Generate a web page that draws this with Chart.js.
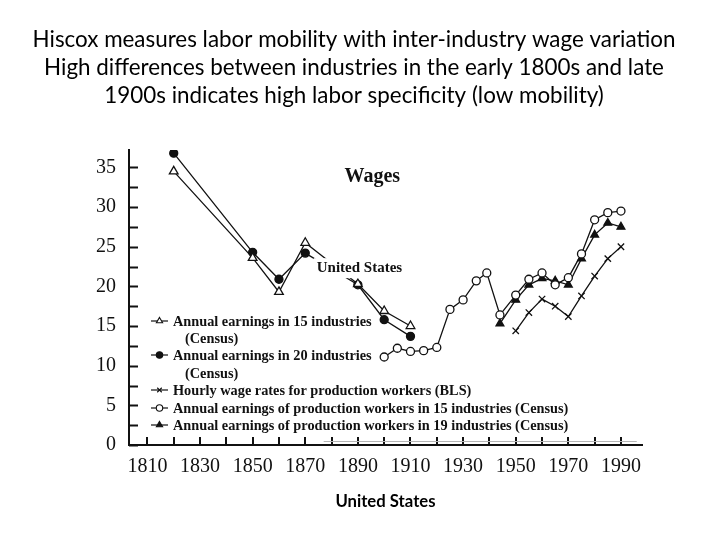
<!DOCTYPE html>
<html><head><meta charset="utf-8">
<script src="https://cdn.jsdelivr.net/npm/chart.js@4.4.1/dist/chart.umd.min.js"></script>
<style>html,body{margin:0;padding:0;background:#fff}#wrap{width:720px;height:540px;position:relative}</style>
</head><body><div id="wrap"><canvas id="c" width="720" height="540"></canvas></div>
<script>
// ---------- data ----------
const titleLines = [
  'Hiscox measures labor mobility with inter-industry wage variation',
  'High differences between industries in the early 1800s and late',
  '1900s indicates high labor specificity (low mobility)'
];
const xAxisTitle = 'United States';
const panelTitle = 'Wages';
const panelSubtitle = 'United States';

const xTickYears = [1810,1820,1830,1840,1850,1860,1870,1880,1890,1900,1910,1920,1930,1940,1950,1960,1970,1980,1990];
const xLabelYears = [1810,1830,1850,1870,1890,1910,1930,1950,1970,1990];
const yTickValues = [0,2.5,5,7.5,10,12.5,15,17.5,20,22.5,25,27.5,30,32.5,35];
const yLabelValues = [0,5,10,15,20,25,30,35];

const yearsEarly = [1820,1850,1860,1870,1890,1900,1910];
const earnings15 = [34.5,23.6,19.3,25.5,20.3,16.9,15.0];
const earnings20 = [36.8,24.3,20.9,24.2,20.2,15.8,13.7];

const yearsBLS = [1950,1955,1960,1965,1970,1975,1980,1985,1990];
const hourlyBLS = [14.4,16.7,18.4,17.5,16.2,18.8,21.3,23.5,25.0];

const yearsProd15 = [1900,1905,1910,1915,1920,1925,1930,1935,1939,1944,1950,1955,1960,1965,1970,1975,1980,1985,1990];
const prod15 = [11.1,12.2,11.8,11.9,12.3,17.1,18.3,20.7,21.7,16.4,18.9,20.9,21.7,20.2,21.1,24.1,28.4,29.3,29.5];

const yearsProd19 = [1944,1950,1955,1960,1965,1970,1975,1980,1985,1990];
const prod19 = [15.3,18.3,20.2,21.0,20.7,20.2,23.5,26.5,28.0,27.5];

const legendLabels = [
  ['Annual earnings in 15 industries','(Census)'],
  ['Annual earnings in 20 industries','(Census)'],
  ['Hourly wage rates for production workers (BLS)'],
  ['Annual earnings of production workers in 15 industries (Census)'],
  ['Annual earnings of production workers in 19 industries (Census)']
];

// ---------- chart ----------
const pts = (xs, ys) => xs.map((x, i) => ({x, y: ys[i]}));
const base = {borderColor:'#111', borderWidth:1.3, pointBorderColor:'#111', pointBorderWidth:1.3, tension:0, fill:false};

const datasets = [
  Object.assign({}, base, {label:legendLabels[0].join(' '), data:pts(yearsEarly, earnings15), pointStyle:'triangle', pointRadius:5, pointBackgroundColor:'#fff', order:2}),
  Object.assign({}, base, {label:legendLabels[1].join(' '), data:pts(yearsEarly, earnings20), pointStyle:'circle', pointRadius:4, pointBackgroundColor:'#111', order:3}),
  Object.assign({}, base, {label:legendLabels[2].join(' '), data:pts(yearsBLS, hourlyBLS), pointStyle:'crossRot', pointRadius:4.5, pointBackgroundColor:'#111', order:4}),
  Object.assign({}, base, {label:legendLabels[3].join(' '), data:pts(yearsProd15, prod15), pointStyle:'circle', pointRadius:4, pointBackgroundColor:'#fff', order:1}),
  Object.assign({}, base, {label:legendLabels[4].join(' '), data:pts(yearsProd19, prod19), pointStyle:'triangle', pointRadius:4.5, pointBackgroundColor:'#111', order:5})
];

const serif = '"Liberation Serif", "DejaVu Serif", serif';
const sans = 'Lato, "Open Sans", sans-serif';

const decorPlugin = {
  id: 'decor',
  afterDatasetsDraw(chart) {
    const ctx = chart.ctx;
    const xs = chart.scales.x, ys = chart.scales.y;
    const area = chart.chartArea;
    ctx.save();
    // inward ticks
    ctx.strokeStyle = '#111';
    ctx.lineWidth = 2;
    yTickValues.forEach(v => {
      const py = Math.round(ys.getPixelForValue(v)) + 0.5;
      ctx.beginPath(); ctx.moveTo(area.left, py); ctx.lineTo(area.left + 9, py); ctx.stroke();
    });
    xTickYears.forEach(v => {
      const px = Math.round(xs.getPixelForValue(v));
      ctx.beginPath(); ctx.moveTo(px, area.bottom); ctx.lineTo(px, area.bottom - 8); ctx.stroke();
    });
    // faint secondary baseline
    ctx.strokeStyle = '#b5b5b5'; ctx.lineWidth = 1;
    ctx.beginPath(); ctx.moveTo(xs.getPixelForValue(1877), area.bottom - 3.5); ctx.lineTo(xs.getPixelForValue(1996), area.bottom - 3.5); ctx.stroke();

    // panel labels
    ctx.fillStyle = '#111';
    ctx.textAlign = 'center'; ctx.textBaseline = 'middle';
    ctx.font = 'bold 20px ' + serif;
    ctx.fillText(panelTitle, xs.getPixelForValue(1895.5), ys.getPixelForValue(33.8));
    ctx.font = 'bold 15px ' + serif;
    const ux = xs.getPixelForValue(1890.6), uy = ys.getPixelForValue(22.3);
    const w = ctx.measureText(panelSubtitle).width;
    ctx.fillStyle = '#fff';
    ctx.fillRect(ux - w/2 - 3, uy - 10, w + 6, 20);
    ctx.fillStyle = '#111';
    ctx.fillText(panelSubtitle, ux, uy);

    // legend
    const rows = [[321,338],[355,373],[390],[408],[425]];
    ctx.textAlign = 'left';
    ctx.font = 'bold 14.3px ' + serif;
    datasets.forEach((ds, i) => {
      const y = rows[i][0];
      ctx.strokeStyle = '#111'; ctx.lineWidth = 1.2;
      ctx.beginPath(); ctx.moveTo(151, y); ctx.lineTo(168, y); ctx.stroke();
      ctx.fillStyle = ds.pointBackgroundColor;
      ctx.strokeStyle = '#111';
      ctx.lineWidth = 1.1;
      Chart.helpers.drawPoint(ctx, {pointStyle: ds.pointStyle, radius: ds.pointStyle === 'triangle' ? 3.6 : 3.2, rotation: 0, borderWidth: 1.1}, 159.5, y);
      ctx.fillStyle = '#111';
      ctx.fillText(legendLabels[i][0], 173, y + 1);
      if (legendLabels[i][1]) ctx.fillText(legendLabels[i][1], 185, rows[i][1] + 1);
    });
    ctx.restore();
  }
};

new Chart(document.getElementById('c'), {
  type: 'line',
  data: {datasets},
  options: {
    responsive: false,
    devicePixelRatio: 1,
    animation: false,
    layout: {padding: {left: 0, right: 12, top: 16, bottom: 0}},
    plugins: {
      legend: {display: false},
      tooltip: {enabled: false},
      title: {
        display: true,
        text: titleLines,
        color: '#000',
        font: {family: sans, size: 22.4, weight: 'normal', lineHeight: 1.25},
        padding: {top: 10, bottom: 40}
      }
    },
    scales: {
      x: {
        type: 'linear', min: 1803, max: 1998,
        afterBuildTicks(s) { s.ticks = xTickYears.map(v => ({value: v})); },
        afterFit(s) { s.height = 95; },
        grid: {display: false, drawTicks: false},
        border: {display: true, color: '#111', width: 2},
        ticks: {
          autoSkip: false, maxRotation: 0, padding: 10, color: '#111',
          font: {family: serif, size: 20},
          callback: v => xLabelYears.includes(v) ? String(v) : ''
        },
        title: {display: true, text: xAxisTitle, color: '#000', font: {family: sans, size: 16.7, weight: 'bold'}, padding: {top: 0, bottom: 28}}
      },
      y: {
        type: 'linear', min: 0, max: 37.2,
        afterBuildTicks(s) { s.ticks = yTickValues.map(v => ({value: v})); },
        afterFit(s) { s.width = 129; },
        grid: {display: false, drawTicks: false},
        border: {display: true, color: '#111', width: 2},
        ticks: {
          autoSkip: false, padding: 13, color: '#111',
          font: {family: serif, size: 20},
          callback: v => yLabelValues.includes(v) ? String(v) : ''
        }
      },
      yRight: {
        type: 'linear', position: 'right', min: 0, max: 1,
        afterFit(s) { s.width = 66; },
        grid: {display: false, drawTicks: false},
        border: {display: false},
        ticks: {display: false}
      }
    }
  },
  plugins: [decorPlugin]
});
</script>
</body></html>
